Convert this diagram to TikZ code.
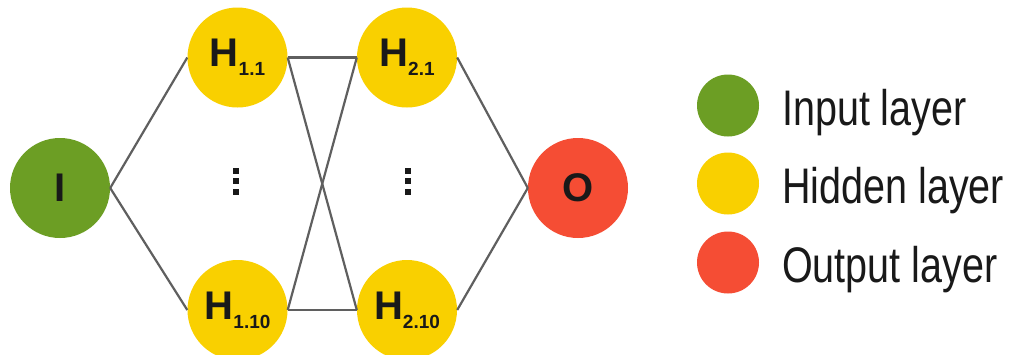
\documentclass[tikz,border=0pt]{standalone}
\usepackage{fontspec}
\setmainfont{Liberation Sans}
\newfontfamily\legendfont[FakeStretch=0.79]{Liberation Sans}
\definecolor{ingreen}{RGB}{108,158,36}
\definecolor{hidyellow}{RGB}{249,208,0}
\definecolor{outred}{RGB}{245,77,52}
\definecolor{linegray}{RGB}{95,95,95}
\definecolor{txtdark}{RGB}{25,25,25}
\newcommand{\nlab}[2]{\fontsize{40}{40}\selectfont\bfseries #1\raisebox{-9pt}{\fontsize{19}{19}\selectfont\bfseries #2}}
\tikzset{
  neuron/.style={circle, draw=none, minimum size=100pt, inner sep=0pt, text=txtdark, font=\fontsize{40}{40}\selectfont\bfseries},
  legdot/.style={circle, draw=none, minimum size=62pt, inner sep=0pt},
  legtext/.style={anchor=base west, inner sep=0pt, text=txtdark, font=\legendfont\fontsize{50}{50}\selectfont},
  conn/.style={draw=linegray, line width=2.2pt},
  dotsq/.style={fill=txtdark, draw=none, minimum size=6pt, inner sep=0pt}
}
\begin{document}
\begin{tikzpicture}[x=1pt,y=-1pt]
\clip (0,0) rectangle (1018,354);
\fill[white] (0,0) rectangle (1018,354);
\path (60,188) coordinate (pI) (237.5,57.5) coordinate (pA) (237.5,310) coordinate (pB)
      (407,57.5) coordinate (pC) (407,310) coordinate (pD) (578,188) coordinate (pO);
\node[neuron, fill=ingreen] (I) at (pI) {I};
\node[neuron, fill=hidyellow] (H11) at (pA) {\nlab{H}{1.1}};
\node[neuron, fill=hidyellow] (H110) at (pB) {\nlab{H}{1.10}};
\node[neuron, fill=hidyellow] (H21) at (pC) {\nlab{H}{2.1}};
\node[neuron, fill=hidyellow] (H210) at (pD) {\nlab{H}{2.10}};
\node[neuron, fill=outred] (O) at (pO) {O};
\draw[conn] (I.east) -- (H11.west);
\draw[conn] (I.east) -- (H110.west);
\draw[conn] (H11.east) -- (H21.west);
\draw[conn] (H11.east) -- (H210.west);
\draw[conn] (H110.east) -- (H21.west);
\draw[conn] (H110.east) -- (H210.west);
\draw[conn] (H21.east) -- (O.west);
\draw[conn] (H210.east) -- (O.west);
% vertical dots
\node[dotsq] (d1a) at (236,170.5) {};
\node[dotsq] (d1b) at (236,181) {};
\node[dotsq] (d1c) at (236,192) {};
\node[dotsq] (d2a) at (408,170.5) {};
\node[dotsq] (d2b) at (408,181) {};
\node[dotsq] (d2c) at (408,192) {};
% legend
\node[legdot, fill=ingreen] (lg) at (728,105.5) {};
\node[legdot, fill=hidyellow] (ly) at (728,183.5) {};
\node[legdot, fill=outred] (lr) at (728,262.5) {};
\node[legtext] (tg) at (782,125) {Input layer};
\node[legtext] (ty) at (782,203) {Hidden layer};
\node[legtext] (tr) at (782,282) {Output layer};
\end{tikzpicture}
\end{document}
